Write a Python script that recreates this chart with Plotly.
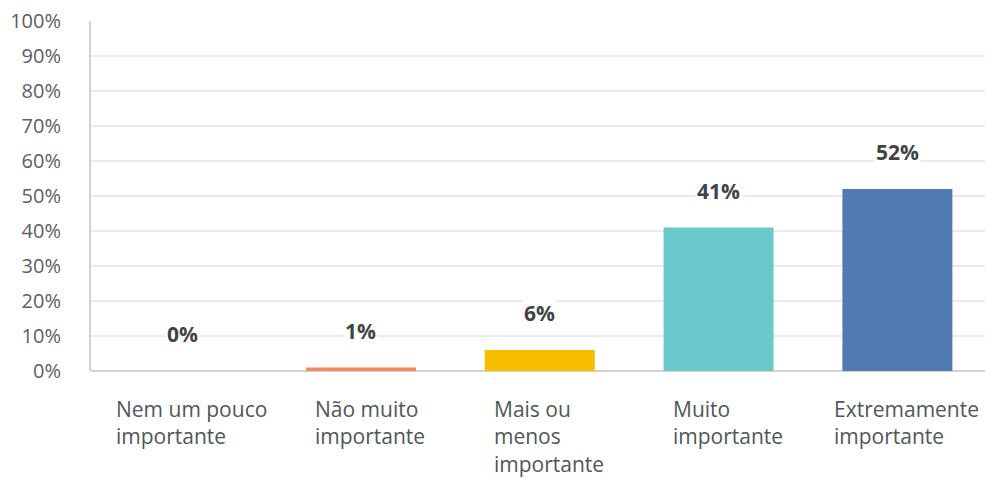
import plotly.graph_objects as go

# Survey answers: share of respondents per importance level
categories = [
    "Nem um pouco importante",
    "Não muito importante",
    "Mais ou menos importante",
    "Muito importante",
    "Extremamente importante",
]
category_lines = [
    "Nem um pouco<br>importante",
    "Não muito<br>importante",
    "Mais ou<br>menos<br>importante",
    "Muito<br>importante",
    "Extremamente<br>importante",
]
values = [0, 1, 6, 41, 52]
bar_colors = ["#8FBF6A", "#F4895F", "#F7BE00", "#6BC8CB", "#4F7AB4"]
y_ticks = [0, 10, 20, 30, 40, 50, 60, 70, 80, 90, 100]
y_tick_text = [f"{t}%" for t in y_ticks]

FONT = "Open Sans"

fig = go.Figure(
    go.Bar(
        x=categories,
        y=values,
        marker=dict(color=bar_colors, line=dict(width=0)),
        hoverinfo="skip",
    )
)

# Value labels above each bar, on a white box that hides the gridlines
for cat, v in zip(categories, values):
    fig.add_annotation(
        x=cat, y=v, xref="x", yref="y",
        text=f"<b>{v}%</b>",
        showarrow=False,
        yanchor="middle", yshift=37,
        bgcolor="white", borderpad=1,
        font=dict(family=FONT, size=21, color="#3f4448"),
    )

# Left-aligned, wrapped category labels under the axis
for cat, lab in zip(categories, category_lines):
    fig.add_annotation(
        x=cat, y=0, xref="x", yref="paper",
        text=lab,
        showarrow=False,
        xanchor="center", yanchor="top", align="left",
        xshift=9, yshift=-22,
        font=dict(family=FONT, size=21, color="#50565a"),
    )

fig.update_layout(
    width=985, height=478,
    margin=dict(l=91, r=0, t=21, b=107),
    paper_bgcolor="white", plot_bgcolor="white",
    bargap=0.385,
    showlegend=False,
    font=dict(family=FONT),
)
fig.update_xaxes(
    type="category",
    range=[-0.51, 4.49],
    showticklabels=False,
    ticks="",
    showgrid=False,
    showline=False,
    zeroline=False,
    fixedrange=True,
)
fig.update_yaxes(
    range=[0, 100],
    tickvals=y_ticks,
    ticktext=y_tick_text,
    tickfont=dict(family=FONT, size=20, color="#5a5f63"),
    ticks="",
    ticklabelstandoff=24,
    showgrid=True, gridcolor="#ebebeb", gridwidth=2,
    showline=True, linecolor="#d3d3d3", linewidth=2,
    zeroline=True, zerolinecolor="#d3d3d3", zerolinewidth=2,
    fixedrange=True,
)

fig.write_html("out.html")
